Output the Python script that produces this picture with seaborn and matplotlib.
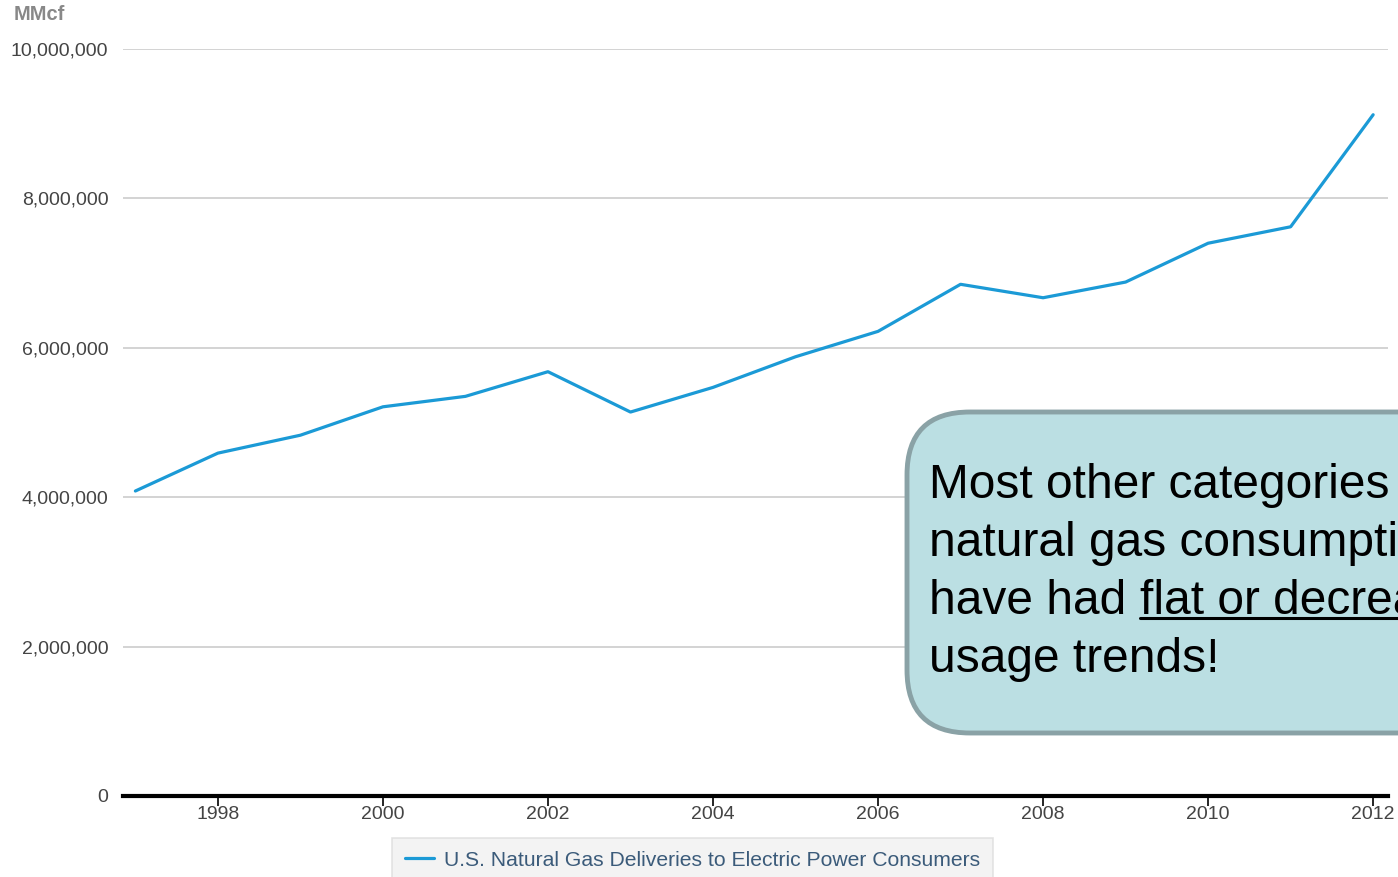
import pandas as pd
import seaborn as sns
import matplotlib.pyplot as plt
from matplotlib.patches import FancyBboxPatch
from matplotlib.lines import Line2D
from matplotlib.ticker import FuncFormatter

# Values (MMcf)
years = [1997, 1998, 1999, 2000, 2001, 2002, 2003, 2004,
         2005, 2006, 2007, 2008, 2009, 2010, 2011, 2012]
deliveries = [4083000, 4590000, 4830000, 5210000, 5350000, 5680000, 5140000, 5470000,
              5880000, 6220000, 6850000, 6670000, 6880000, 7400000, 7620000, 9120000]
series_name = "U.S. Natural Gas Deliveries to Electric Power Consumers"
year_ticks = [1998, 2000, 2002, 2004, 2006, 2008, 2010, 2012]
value_ticks = [0, 2000000, 4000000, 6000000, 8000000, 10000000]

df = pd.DataFrame({"year": years, "value": deliveries})

sns.set_style("white")
plt.rcParams["font.family"] = ["Liberation Sans", "DejaVu Sans"]

fig = plt.figure(figsize=(13.98, 8.77), dpi=100)
ax = fig.add_axes([123 / 1398, 81 / 877, 1265 / 1398, 747 / 877])

sns.lineplot(data=df, x="year", y="value", ax=ax, color="#1b9ad6", linewidth=2.3,
             label=series_name)

ax.set_xlim(1996.85, 2012.18)
ax.set_ylim(0, 10000000)
ax.set_xticks(year_ticks)
ax.set_yticks(value_ticks)
ax.yaxis.set_major_formatter(FuncFormatter(lambda v, p: f"{int(v):,}"))
ax.set_xlabel("")
ax.set_ylabel("")
ax.grid(axis="y", color="#cccccc", linewidth=1.2)
ax.set_axisbelow(True)
for side in ["left", "right", "top"]:
    ax.spines[side].set_visible(False)
ax.spines["bottom"].set_color("black")
ax.spines["bottom"].set_linewidth(3)
ax.spines["bottom"].set_zorder(5)
ax.tick_params(axis="x", length=7, width=1.2, color="black", direction="out",
               labelsize=14, labelcolor="#444444", pad=0, bottom=True)
ax.tick_params(axis="y", length=0, labelsize=14, labelcolor="#444444", pad=10.5)

fig.text(14 / 1398, 1 - 15 / 877, "MMcf", fontsize=14.5, fontweight="bold",
         color="#888888", va="center", ha="left")

leg = ax.legend(loc="upper left", bbox_to_anchor=(392 / 1398, 1 - 838 / 877),
                bbox_transform=fig.transFigure, frameon=True, fancybox=False,
                facecolor="#f0f0f0", edgecolor="#dddddd", fontsize=15.2,
                handlelength=1.4, borderpad=0.6, handletextpad=0.45,
                borderaxespad=0)
for t in leg.get_texts():
    t.set_color("#3b5b7a")
leg.get_frame().set_linewidth(1.2)

# callout box (clipped at the right edge of the figure)
box = FancyBboxPatch((907 / 1398, 1 - 733 / 877), 600 / 1398, 321 / 877,
                     boxstyle="round,pad=0,rounding_size=0.045",
                     transform=fig.transFigure, facecolor="#bbdfe3",
                     edgecolor="#8aa2a6", linewidth=3.5, zorder=10,
                     mutation_aspect=1398 / 877)
fig.patches.append(box)

lines_y = [486, 544, 601, 659]
x0 = 929 / 1398
fs = 34.5
fig.text(x0, 1 - lines_y[0] / 877, "Most other categories of", fontsize=fs, va="center",
         color="black", zorder=11)
fig.text(x0, 1 - lines_y[1] / 877, "natural gas consumption", fontsize=fs, va="center",
         color="black", zorder=11)
t1 = fig.text(x0, 1 - lines_y[2] / 877, "have had ", fontsize=fs, va="center",
              color="black", zorder=11)
fig.text(x0, 1 - lines_y[3] / 877, "usage trends!", fontsize=fs, va="center",
         color="black", zorder=11)

fig.canvas.draw()
r = fig.canvas.get_renderer()
bb = t1.get_window_extent(r)
x1 = bb.x1 / 1398
t2 = fig.text(x1, 1 - lines_y[2] / 877, "flat or decreasing", fontsize=fs, va="center",
              color="black", zorder=11)
bb2 = t2.get_window_extent(r)
fig.lines.append(Line2D([bb2.x0 / 1398, bb2.x1 / 1398], [1 - 618 / 877, 1 - 618 / 877],
                        transform=fig.transFigure, color="black", linewidth=2.2, zorder=11))

fig.savefig("out.png", dpi=100)
